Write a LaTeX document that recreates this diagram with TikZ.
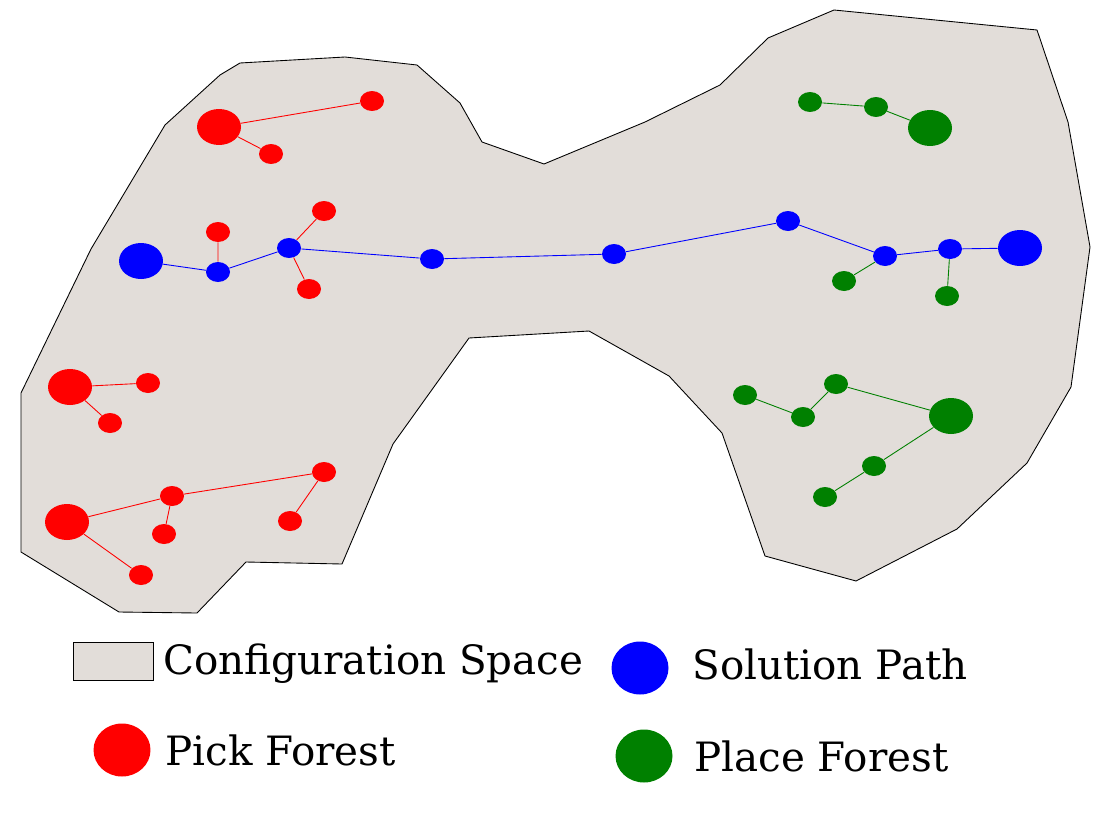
\documentclass[tikz,border=0pt]{standalone}
\usepackage{fontspec}
\setmainfont{DejaVu Serif}
\usetikzlibrary{shapes.geometric}
\definecolor{cspace}{HTML}{E2DDD9}
\definecolor{gr}{HTML}{008000}
\tikzset{
 sm/.style={ellipse,inner sep=0,minimum width=0.48cm,minimum height=0.4cm},
 lg/.style={ellipse,inner sep=0,minimum width=0.88cm,minimum height=0.72cm},
 lgd/.style={ellipse,inner sep=0,minimum width=1.14cm,minimum height=1.06cm},
 r/.style={fill=red}, b/.style={fill=blue}, g/.style={fill=gr},
 re/.style={red,line width=0.5pt}, be/.style={blue,line width=0.5pt}, ge/.style={gr,line width=0.5pt},
 lbl/.style={anchor=west,inner sep=0,font=\fontsize{23}{27}\selectfont}
}
\begin{document}
\begin{tikzpicture}[x=0.02cm,y=-0.02cm]
\useasboundingbox (0,0) rectangle (1104,821);
\draw[fill=cspace,line width=0.5pt] (240,63)--(345,57)--(417,65)--(460,103)--(482,142)--(544,164)--(645,122)--(720,85)--(768,38)--(834,10)--(1037,30)--(1068,122)--(1090,247)--(1071,387)--(1027,463)--(957,529)--(856,581)--(765,556)--(722,433)--(669,376)--(589,331)--(469,338)--(393,444)--(342,564)--(246,562)--(197,613)--(119,612)--(21,552)--(21,393)--(55,323)--(91,249)--(165,125)--(220,75)--cycle;
% nodes
\node[lg,r] (p1) at (219,127) {};
\node[sm,r] (p2) at (372,101) {};
\node[sm,r] (p3) at (271,154) {};
\node[lg,b] (b0) at (141,261) {};
\node[sm,b] (b1) at (218,272) {};
\node[sm,b] (b2) at (289,248) {};
\node[sm,b] (b3) at (432,259) {};
\node[sm,b] (b4) at (614,254) {};
\node[sm,b] (b5) at (788,221) {};
\node[sm,b] (b6) at (885,256) {};
\node[sm,b] (b7) at (950,249) {};
\node[lg,b] (b8) at (1020,248) {};
\node[sm,r] (r1) at (218,232) {};
\node[sm,r] (r2) at (324,211) {};
\node[sm,r] (r3) at (309,289) {};
\node[sm,g] (g1) at (844,281) {};
\node[sm,g] (g2) at (947,296) {};
\node[sm,g] (t1) at (810,102) {};
\node[sm,g] (t2) at (876,107) {};
\node[lg,g] (t3) at (930,128) {};
\node[lg,r] (l1) at (70,387) {};
\node[sm,r] (l2) at (148,383) {};
\node[sm,r] (l3) at (110,423) {};
\node[lg,r] (m1) at (67,522) {};
\node[sm,r] (m2) at (172,496) {};
\node[sm,r] (m3) at (324,472) {};
\node[sm,r] (m4) at (290,521) {};
\node[sm,r] (m5) at (164,534) {};
\node[sm,r] (m6) at (141,575) {};
\node[sm,g] (h1) at (745,395) {};
\node[sm,g] (h2) at (803,417) {};
\node[sm,g] (h3) at (836,384) {};
\node[lg,g] (h4) at (951,416) {};
\node[sm,g] (h5) at (874,466) {};
\node[sm,g] (h6) at (825,497) {};
% edges
\draw[re] (p1)--(p2) (p1)--(p3) (b1)--(r1) (b2)--(r2) (b2)--(r3)
 (l1)--(l2) (l1)--(l3) (m1)--(m2) (m2)--(m3) (m3)--(m4) (m2)--(m5) (m1)--(m6);
\draw[be] (b0)--(b1)--(b2)--(b3)--(b4)--(b5)--(b6)--(b7)--(b8);
\draw[ge] (b6)--(g1) (b7)--(g2) (t1)--(t2)--(t3) (h1)--(h2)--(h3)--(h4)--(h5)--(h6);
% legend
\node[draw,fill=cspace,inner sep=0,minimum width=1.6cm,minimum height=0.76cm,line width=0.5pt] (lc) at (113,661) {};
\node[lbl] (tc) at (163,664) {Configuration Space};
\node[lgd,b] (lb) at (640,668) {};
\node[lbl] (tb) at (692,664) {Solution Path};
\node[lgd,r] (lr) at (122,750) {};
\node[lbl] (tr) at (165,750) {Pick Forest};
\node[lgd,g] (lg) at (644,756) {};
\node[lbl] (tg) at (694,756) {Place Forest};
\end{tikzpicture}
\end{document}
